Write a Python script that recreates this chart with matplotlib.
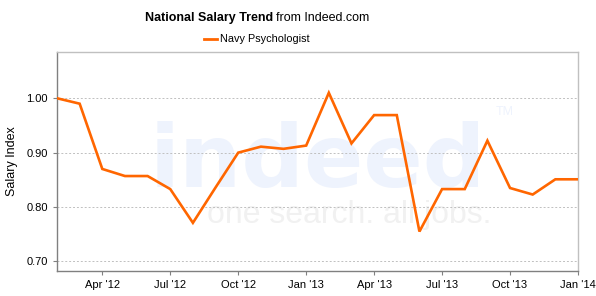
import matplotlib
matplotlib.use("Agg")
import matplotlib.pyplot as plt

# monthly salary index, Feb 2012 .. Jan 2014
months = ["Feb '12", "Mar '12", "Apr '12", "May '12", "Jun '12", "Jul '12",
          "Aug '12", "Sep '12", "Oct '12", "Nov '12", "Dec '12", "Jan '13",
          "Feb '13", "Mar '13", "Apr '13", "May '13", "Jun '13", "Jul '13",
          "Aug '13", "Sep '13", "Oct '13", "Nov '13", "Dec '13", "Jan '14"]
salary_index = [1.000, 0.990, 0.870, 0.857, 0.857, 0.833,
                0.771, 0.836, 0.900, 0.911, 0.907, 0.913,
                1.010, 0.917, 0.969, 0.969, 0.755, 0.833,
                0.833, 0.922, 0.835, 0.823, 0.851, 0.851]
tick_labels = ["Apr '12", "Jul '12", "Oct '12", "Jan '13",
               "Apr '13", "Jul '13", "Oct '13", "Jan '14"]
y_ticks = [0.70, 0.80, 0.90, 1.00]

plt.rcParams["font.family"] = ["Liberation Sans", "DejaVu Sans"]

fig = plt.figure(figsize=(5.96, 2.96), dpi=100)
ax = fig.add_axes([57 / 596, 1 - 270.7 / 296, 521 / 596, 218.7 / 296])

x = list(range(len(months)))
ax.plot(x, salary_index, color="#ff6600", lw=1.9, zorder=3,
        solid_joinstyle="miter")

# faint watermark
ax.text(0.178, 0.385, "indeed", transform=ax.transAxes, fontsize=63,
        fontweight="bold", family="DejaVu Sans", color="#eef3fd", zorder=0,
        ha="left", va="baseline")
ax.text(0.288, 0.218, "one search. all jobs.", transform=ax.transAxes,
        fontsize=23, color="#f1f1f1", zorder=0, ha="left", va="baseline")
ax.text(0.843, 0.71, "TM", transform=ax.transAxes, fontsize=9,
        color="#eef3fd", zorder=0)

ax.set_xlim(0, len(months) - 1)
ax.set_ylim(0.683, 1.085)
ax.set_yticks(y_ticks)
ax.set_yticklabels([f"{v:.2f}" for v in y_ticks])
ax.set_xticks([months.index(t) for t in tick_labels])
ax.set_xticklabels(tick_labels)
ax.tick_params(axis="both", labelsize=8, length=3, color="#808080",
               labelcolor="#000000")
ax.yaxis.grid(True, ls=(0, (2, 2)), color="#c0c0c0", lw=0.7)
ax.set_axisbelow(True)
ax.set_ylabel("Salary Index", fontsize=9)
ax.yaxis.set_label_coords(-0.075, 0.5)

for s in ("left", "bottom"):
    ax.spines[s].set_color("#808080")
    ax.spines[s].set_linewidth(1.0)
for s in ("top", "right"):
    ax.spines[s].set_color("#c0c0c0")
    ax.spines[s].set_linewidth(1.0)

# title: bold part + regular part
fig.text(273 / 596, 1 - 18 / 296, "National Salary Trend", fontsize=9,
         fontweight="bold", ha="right", va="center")
fig.text(276 / 596, 1 - 18 / 296, "from Indeed.com", fontsize=9,
         ha="left", va="center")

# legend
fig.lines.append(plt.Line2D([204 / 596, 217 / 596], [1 - 39 / 296] * 2,
                            transform=fig.transFigure, color="#ff6600", lw=2))
fig.text(220 / 596, 1 - 39 / 296, "Navy Psychologist", fontsize=7.8,
         ha="left", va="center")

fig.savefig("out.png", dpi=100)
